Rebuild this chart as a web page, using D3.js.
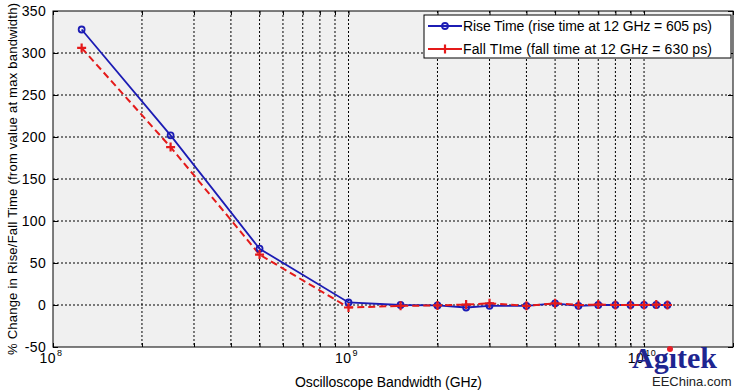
<!DOCTYPE html>
<html>
<head>
<meta charset="utf-8">
<script src="https://cdn.jsdelivr.net/npm/d3@7"></script>
<style>
  body { margin: 0; background: #fff; }
  svg { display: block; font-family: 'Liberation Sans', Arial, sans-serif; }
</style>
</head>
<body>
<script>
// Bandwidth in GHz, % change vs value at 12 GHz
const bandwidthGHz = [0.125, 0.25, 0.5, 1, 1.5, 2, 2.5, 3, 4, 5, 6, 7, 8, 9, 10, 11, 12];
const riseChange = [328, 202, 67, 3, 0, -0.5, -3, -1, -1, 2, -1, 0, 0, 0, 0, 0, 0];
const fallChange = [306, 188, 60, -3, -1, -0.5, 0.5, 2, -1, 2, 0, 0.5, 0, 0, 0, 0.5, 0];
const yTicks = [-50, 0, 50, 100, 150, 200, 250, 300, 350];
const xDecades = [8, 9, 10];
const legendLabels = [
  'Rise Time (rise time at 12 GHz = 605 ps)',
  'Fall TIme (fall time at 12 GHz = 630 ps)'
];

const fullWidth = 736;
const fullHeight = 392;
const margin = { top: 11, right: 3, bottom: 45, left: 53 };
const width = fullWidth - margin.left - margin.right;
const height = fullHeight - margin.top - margin.bottom;

const svg = d3.select('body')
  .append('svg')
  .attr('width', fullWidth)
  .attr('height', fullHeight);

const g = svg.append('g')
  .attr('transform', `translate(${margin.left}, ${margin.top})`);

// Scales
const xScale = d3.scaleLog()
  .domain([1e8, 2e10])
  .range([0, width]);

const yScale = d3.scaleLinear()
  .domain([-50, 350])
  .range([height, 0]);

// Plot background
g.append('rect')
  .attr('width', width)
  .attr('height', height)
  .style('fill', '#f0f0f0');

// Grid
const xGrid = xScale.ticks().filter(v => v > 1e8 && v < 2e10);
g.append('g')
  .selectAll('line')
  .data(xGrid)
  .enter()
  .append('line')
  .attr('x1', d => xScale(d))
  .attr('x2', d => xScale(d))
  .attr('y1', 0)
  .attr('y2', height)
  .style('stroke', '#000')
  .style('stroke-dasharray', '2,2');

g.append('g')
  .selectAll('line')
  .data(yTicks.slice(1, -1))
  .enter()
  .append('line')
  .attr('x1', 0)
  .attr('x2', width)
  .attr('y1', d => yScale(d))
  .attr('y2', d => yScale(d))
  .style('stroke', '#000')
  .style('stroke-dasharray', '2,2');

// Axes (ticks point inward, on all four sides)
const minorTicks = xScale.ticks();
g.append('g')
  .attr('transform', `translate(0, ${height})`)
  .call(d3.axisTop(xScale).tickValues(minorTicks).tickSize(4).tickFormat(''))
  .call(a => a.select('.domain').remove());
g.append('g')
  .call(d3.axisBottom(xScale).tickValues(minorTicks).tickSize(4).tickFormat(''))
  .call(a => a.select('.domain').remove());
g.append('g')
  .call(d3.axisRight(yScale).tickValues(yTicks).tickSize(5).tickFormat(''))
  .call(a => a.select('.domain').remove());
g.append('g')
  .attr('transform', `translate(${width}, 0)`)
  .call(d3.axisLeft(yScale).tickValues(yTicks).tickSize(5).tickFormat(''))
  .call(a => a.select('.domain').remove());

g.append('rect')
  .attr('width', width)
  .attr('height', height)
  .style('fill', 'none')
  .style('stroke', '#000')
  .style('stroke-width', 1);

// Y tick labels
g.append('g')
  .selectAll('text')
  .data(yTicks)
  .enter()
  .append('text')
  .attr('x', -7)
  .attr('y', d => yScale(d))
  .attr('dy', '0.35em')
  .attr('text-anchor', 'end')
  .style('font-size', '14px')
  .style('letter-spacing', '0.3px')
  .text(d => d);

// X tick labels 10^n
const xLab = g.append('g')
  .selectAll('text')
  .data(xDecades)
  .enter()
  .append('text')
  .attr('x', d => xScale(Math.pow(10, d)) - 2)
  .attr('y', height + 16)
  .attr('text-anchor', 'middle')
  .style('font-size', '14px')
  .style('letter-spacing', '0.5px');
xLab.append('tspan').text('10');
xLab.append('tspan')
  .attr('dy', -7)
  .attr('dx', 1)
  .style('font-size', '9px')
  .text(d => d);

// Axis titles
svg.append('text')
  .attr('x', 295)
  .attr('y', fullHeight - 5)
  .attr('textLength', 187)
  .attr('lengthAdjust', 'spacing')
  .style('font-size', '14px')
  .text('Oscilloscope Bandwidth (GHz)');

svg.append('text')
  .attr('transform', 'translate(17, 355) rotate(-90)')
  .attr('textLength', 352)
  .attr('lengthAdjust', 'spacing')
  .style('font-size', '13px')
  .text('% Change in Rise/Fall Time (from value at max bandwidth)');

// Series
const riseData = bandwidthGHz.map((f, i) => ({ x: f * 1e9, y: riseChange[i] }));
const fallData = bandwidthGHz.map((f, i) => ({ x: f * 1e9, y: fallChange[i] }));

const line = d3.line()
  .x(d => xScale(d.x))
  .y(d => yScale(d.y));

const riseColor = '#1c1cb4';
const fallColor = '#e41a1a';

g.append('path')
  .datum(riseData)
  .attr('d', line)
  .style('fill', 'none')
  .style('stroke', riseColor)
  .style('stroke-width', 1.8);

g.append('path')
  .datum(fallData)
  .attr('d', line)
  .style('fill', 'none')
  .style('stroke', fallColor)
  .style('stroke-width', 2)
  .style('stroke-dasharray', '7,4');

function drawPlus(sel, color) {
  sel.append('path')
    .attr('d', 'M-4.5,0H4.5M0,-4.5V4.5')
    .style('stroke', color)
    .style('stroke-width', 2.2)
    .style('fill', 'none');
}
function drawCircle(sel, color) {
  sel.append('circle')
    .attr('r', 3)
    .style('fill', 'none')
    .style('stroke', color)
    .style('stroke-width', 1.8);
}

g.append('g')
  .selectAll('g')
  .data(riseData)
  .enter()
  .append('g')
  .attr('transform', d => `translate(${xScale(d.x)}, ${yScale(d.y)})`)
  .call(s => drawCircle(s, riseColor));

g.append('g')
  .selectAll('g')
  .data(fallData)
  .enter()
  .append('g')
  .attr('transform', d => `translate(${xScale(d.x)}, ${yScale(d.y)})`)
  .call(s => drawPlus(s, fallColor));

// Legend
const leg = svg.append('g')
  .attr('transform', 'translate(424, 15)');

leg.append('rect')
  .attr('width', 307)
  .attr('height', 43)
  .style('fill', '#fff')
  .style('stroke', '#000');

const legItems = [
  { color: riseColor, mark: drawCircle },
  { color: fallColor, mark: drawPlus }
];

legItems.forEach((item, i) => {
  const row = leg.append('g')
    .attr('transform', `translate(0, ${11 + i * 23})`);
  row.append('line')
    .attr('x1', 4)
    .attr('x2', 38)
    .style('stroke', item.color)
    .style('stroke-width', 1.8);
  row.append('g')
    .attr('transform', 'translate(21, 0)')
    .call(s => item.mark(s, item.color));
  row.append('text')
    .attr('x', 39)
    .attr('dy', '0.35em')
    .attr('textLength', 249)
    .attr('lengthAdjust', 'spacing')
    .style('font-size', '14px')
    .text(legendLabels[i]);
});

// Watermark
const wm = svg.append('g')
  .attr('transform', 'translate(632, 368)');
wm.append('text')
  .style('font-family', "'Liberation Serif', 'DejaVu Serif', serif")
  .style('font-weight', 'bold')
  .style('font-size', '30px')
  .style('fill', '#1e2590')
  .text('Agıtek');
wm.append('circle')
  .attr('cx', 38)
  .attr('cy', -19)
  .attr('r', 3)
  .style('fill', '#e8202a');
wm.append('text')
  .attr('x', 20)
  .attr('y', 18)
  .style('font-size', '13px')
  .style('fill', '#222')
  .text('EEChina.com');
</script>
</body>
</html>
